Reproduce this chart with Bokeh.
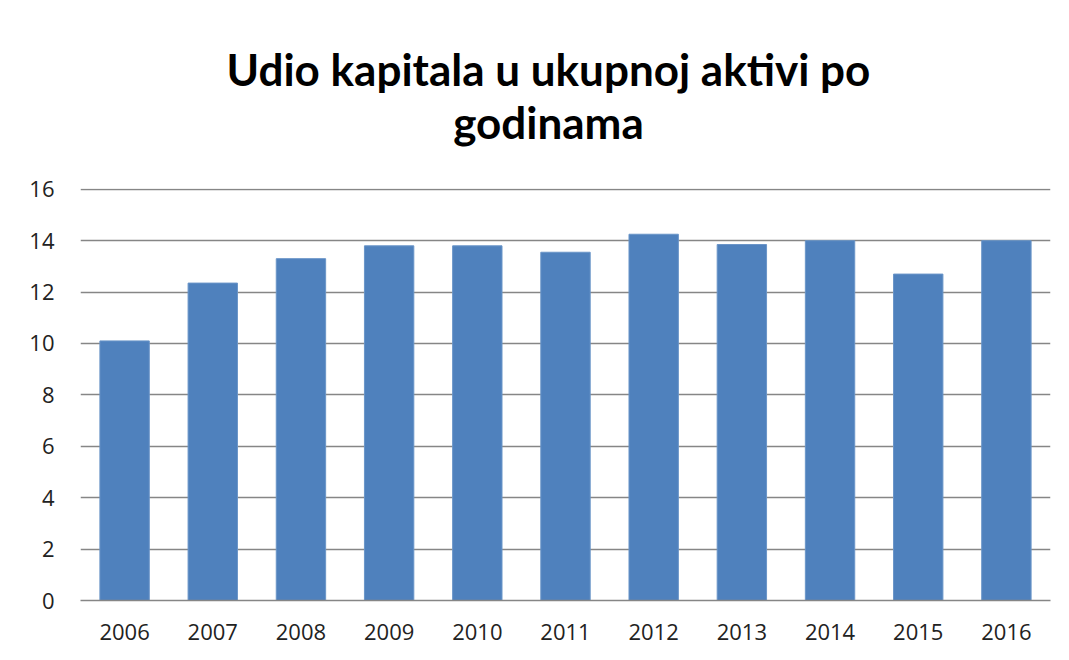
from bokeh.plotting import figure
from bokeh.layouts import column
from bokeh.models import FactorRange, Range1d, FixedTicker
from bokeh.core.properties import value
from bokeh.embed import file_html
from bokeh.resources import INLINE

years = ["2006", "2007", "2008", "2009", "2010", "2011", "2012", "2013", "2014", "2015", "2016"]
values = [10.1, 12.35, 13.3, 13.8, 13.8, 13.55, 14.25, 13.85, 14.0, 12.7, 14.0]
y_ticks = [0, 2, 4, 6, 8, 10, 12, 14, 16]
title_lines = ["Udio kapitala u ukupnoj aktivi po", "godinama"]

TITLE_FONT = "Lato"
TICK_FONT = "Open Sans"
W = 1053
TITLE_H = 160

# --- title strip (pixel-like coordinates, y downward) ---
t = figure(width=W, height=TITLE_H, x_range=Range1d(0, W), y_range=Range1d(TITLE_H, 0),
           title=None, x_axis_location=None, y_axis_location=None,
           output_backend="svg", toolbar_location=None,
           min_border=0, min_border_left=0, min_border_right=0,
           min_border_top=0, min_border_bottom=0,
           background_fill_color="white", border_fill_color="white")
t.grid.visible = False
t.outline_line_color = None
t.text(x=[508, 508], y=[68, 121], text=title_lines,
       text_font=value(TITLE_FONT), text_font_size="44px", text_font_style="bold",
       text_align="center", text_baseline="alphabetic", text_color="#000000")

# --- bar chart ---
p = figure(
    width=W, height=644 - TITLE_H,
    x_range=FactorRange(factors=years, range_padding=0),
    y_range=Range1d(0, 16.03),
    output_backend="svg", toolbar_location=None,
    min_border_left=80, min_border_right=3,
    min_border_top=188 - TITLE_H, min_border_bottom=44,
    background_fill_color="white", border_fill_color="white",
)
p.outline_line_color = None

p.vbar(x=years, top=values, width=0.56, color="#4F81BD", line_color="#6A95C8", line_width=1)

p.yaxis.ticker = FixedTicker(ticks=y_ticks)
p.yaxis.axis_line_color = None
p.yaxis.major_tick_line_color = None
p.yaxis.minor_tick_line_color = None
p.yaxis.major_label_standoff = 20
p.yaxis.major_label_text_font = TICK_FONT
p.yaxis.major_label_text_font_size = "22px"
p.yaxis.major_label_text_color = "#222222"

p.xaxis.axis_line_color = "#868686"
p.xaxis.axis_line_width = 1.5
p.xaxis.major_tick_line_color = None
p.xaxis.minor_tick_line_color = None
p.xaxis.major_label_standoff = 17
p.xaxis.major_label_text_font = TICK_FONT
p.xaxis.major_label_text_font_size = "22px"
p.xaxis.major_label_text_color = "#222222"

p.xgrid.grid_line_color = None
p.ygrid.ticker = FixedTicker(ticks=y_ticks)
p.ygrid.grid_line_color = "#868686"
p.ygrid.grid_line_width = 1.5

layout = column(t, p, spacing=0)
open("out.html", "w").write(file_html(layout, INLINE))
